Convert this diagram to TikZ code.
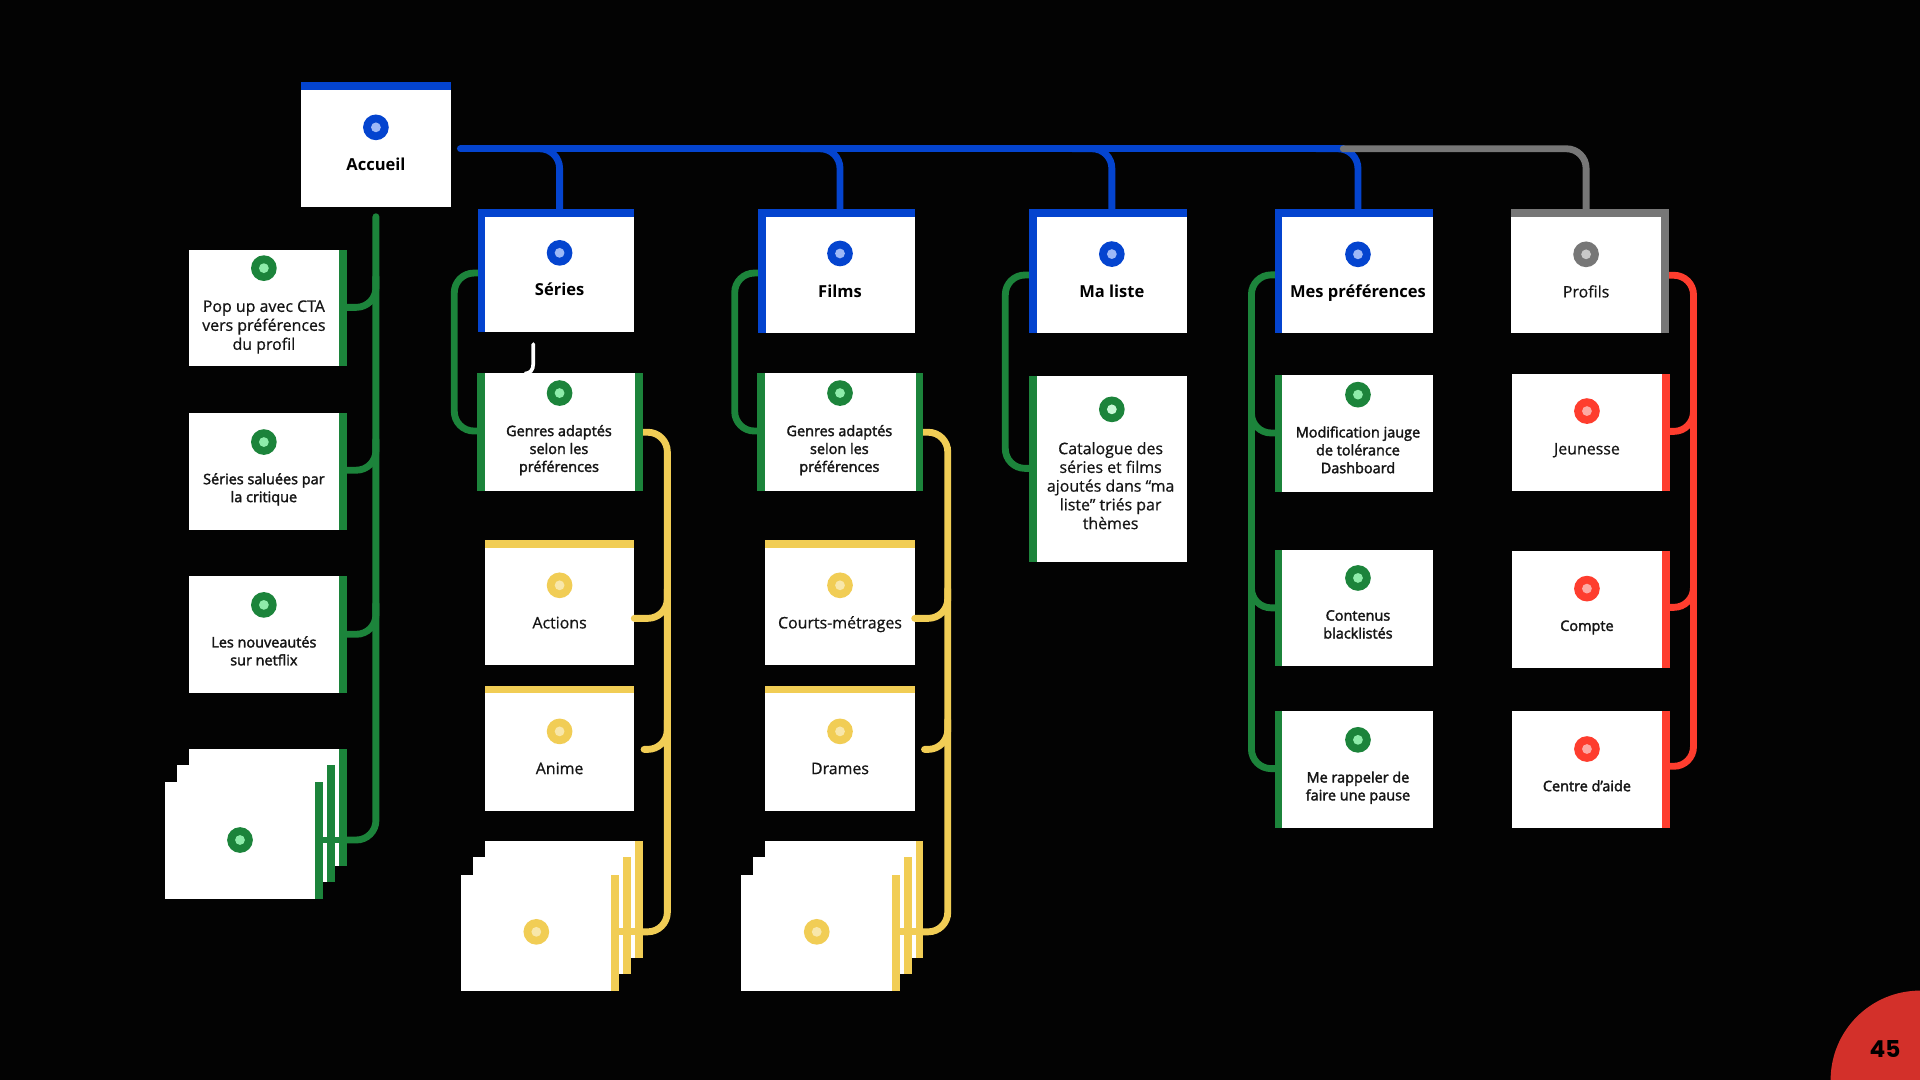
\documentclass[tikz,border=0pt]{standalone}
\usepackage{fontspec}
\setmainfont{Open Sans}
\newfontface\regf{Open Sans}[FakeBold=0.7]
\newfontface\semib{Open Sans}[FakeBold=2.2]
\newfontfamily\popf{Poppins}
\usetikzlibrary{calc,backgrounds}
\definecolor{bg}{HTML}{030303}
\definecolor{cb}{HTML}{0444CF}
\definecolor{cbl}{HTML}{9DB8F7}
\definecolor{cg}{HTML}{1C843B}
\definecolor{cgl}{HTML}{8EECAA}
\definecolor{cgll}{HTML}{C8F8D6}
\definecolor{cy}{HTML}{F1CD55}
\definecolor{cyl}{HTML}{F8E7AA}
\definecolor{cr}{HTML}{FE3D2E}
\definecolor{crl}{HTML}{FCAAA5}
\definecolor{cgr}{HTML}{777777}
\definecolor{cgrl}{HTML}{C9C9C9}
\definecolor{pgred}{HTML}{D3302A}
\definecolor{tx}{HTML}{161616}
\tikzset{
  wbox/.style={fill=white,draw=none,inner sep=0pt,outer sep=0pt,anchor=north west},
  conn/.style={line width=5.6pt,line cap=round,rounded corners=16pt},
  ttl/.style={inner sep=0pt,text=black,text height=9.7pt,text depth=0pt,font=\bfseries\fontsize{13.5}{16}\selectfont},
  reg/.style={inner sep=0pt,align=center,text=tx,text height=9.4pt,text depth=0pt,font=\regf\fontsize{13}{15.5}\selectfont},
  sem/.style={inner sep=0pt,align=center,text=tx,text height=8.5pt,text depth=0pt,font=\semib\fontsize{11.8}{14.6}\selectfont},
}
\newcommand\bx[5]{\node[wbox,minimum width={#4-#2},minimum height={#5-#3}] (#1) at (#2,#3) {};}
\newcommand\tb[2]{\fill[#2] (#1.north west) rectangle ([yshift=-6.3pt]#1.north east);}
\newcommand\lb[2]{\fill[#2] (#1.north west) rectangle ([xshift=6.3pt]#1.south west);}
\newcommand\rb[2]{\fill[#2] ([xshift=-6.3pt]#1.north east) rectangle (#1.south east);}
\newcommand\dotc[4]{\fill[#3] (#1,#2) circle (10.5pt); \fill[#4] (#1,#2) circle (4pt);}
\begin{document}
\begin{tikzpicture}[x=1pt,y=-1pt]
\useasboundingbox (0,0) rectangle (1568,882);
% ---------- Accueil
\bx{acc}{246}{67}{368}{169} \tb{acc}{cb}
\dotc{307}{104}{cb}{cbl}
\node[ttl] (acc-t) at (307,134.5) {Accueil};
% ---------- left column
\bx{pop}{154}{204}{283}{299} \rb{pop}{cg}
\dotc{215.5}{219}{cg}{cgl}
\node[reg] (pop-t) at (215.5,281) {Pop up avec CTA\\vers préférences\\du profil};
\bx{sal}{154}{337}{283}{432.5} \rb{sal}{cg}
\dotc{215.5}{361}{cg}{cgl}
\node[sem] (sal-t) at (215.5,405.8) {Séries saluées par\\la critique};
\bx{nou}{154}{470}{283}{566} \rb{nou}{cg}
\dotc{215.5}{494}{cg}{cgl}
\node[sem] (nou-t) at (215.5,539.1) {Les nouveautés\\sur netflix};
\bx{stA}{154}{612}{283}{707} \rb{stA}{cg}
\bx{stB}{144.6}{625}{273.6}{720} \rb{stB}{cg}
\bx{stC}{134.7}{638.4}{263.8}{734} \rb{stC}{cg}
\dotc{196}{686}{cg}{cgl}
% ---------- Series column
\bx{ser}{390}{171}{518}{271} \tb{ser}{cb} \lb{ser}{cb}
\dotc{457}{206.5}{cb}{cbl}
\node[ttl] (ser-t) at (457,236.8) {Séries};
\bx{genS}{389.5}{305}{525}{401} \lb{genS}{cg} \rb{genS}{cg}
\dotc{457}{321}{cg}{cgl}
\node[sem] (genS-t) at (456.5,381.1) {Genres adaptés\\selon les\\préférences};
\bx{act}{396}{441}{518}{543} \tb{act}{cy}
\dotc{457}{478}{cy}{cyl}
\node[reg] (act-t) at (457,508.5) {Actions};
\bx{ani}{396}{560}{518}{662} \tb{ani}{cy}
\dotc{457}{597.3}{cy}{cyl}
\node[reg] (ani-t) at (457,627.5) {Anime};
\bx{ysA}{396}{686.7}{525}{782} \rb{ysA}{cy}
\bx{ysB}{386.3}{699.8}{515.4}{795.5} \rb{ysB}{cy}
\bx{ysC}{376.5}{714.2}{505.6}{809} \rb{ysC}{cy}
\dotc{438}{761}{cy}{cyl}
% ---------- Films column
\bx{fil}{619}{171}{747}{272} \tb{fil}{cb} \lb{fil}{cb}
\dotc{686}{207}{cb}{cbl}
\node[ttl] (fil-t) at (686,238) {Films};
\bx{genF}{618.5}{305}{754}{401} \lb{genF}{cg} \rb{genF}{cg}
\dotc{686}{321}{cg}{cgl}
\node[sem] (genF-t) at (685.5,381.1) {Genres adaptés\\selon les\\préférences};
\bx{crt}{625}{441}{747}{543} \tb{crt}{cy}
\dotc{686}{478}{cy}{cyl}
\node[reg] (crt-t) at (686,508.5) {Courts-métrages};
\bx{dra}{625}{560}{747}{662} \tb{dra}{cy}
\dotc{686}{597.3}{cy}{cyl}
\node[reg] (dra-t) at (686,627.5) {Drames};
\bx{yfA}{625}{686.7}{754}{782} \rb{yfA}{cy}
\bx{yfB}{615.3}{699.8}{744.4}{795.5} \rb{yfB}{cy}
\bx{yfC}{605.5}{714.2}{734.6}{809} \rb{yfC}{cy}
\dotc{667}{761}{cy}{cyl}
% ---------- Ma liste column
\bx{mal}{840.5}{171}{969}{272} \tb{mal}{cb} \lb{mal}{cb}
\dotc{908}{207.5}{cb}{cbl}
\node[ttl] (mal-t) at (908,238.2) {Ma liste};
\bx{cat}{840.5}{307}{969}{459} \lb{cat}{cg}
\dotc{908}{334.3}{cg}{cgll}
\node[reg,font=\regf\fontsize{13}{15.3}\selectfont] (cat-t) at (907,427.4) {Catalogue des\\séries et films\\ajoutés dans “ma\\liste” triés par\\thèmes};
% ---------- Mes preferences column
\bx{mpr}{1041}{171}{1170}{272} \tb{mpr}{cb} \lb{mpr}{cb}
\dotc{1109}{207.7}{cb}{cbl}
\node[ttl] (mpr-t) at (1109,238.2) {Mes préférences};
\bx{mod}{1041}{306.3}{1170}{401.7} \lb{mod}{cg}
\dotc{1109}{322.3}{cg}{cgl}
\node[sem] (mod-t) at (1109,382.2) {Modification jauge\\de tolérance\\Dashboard};
\bx{con}{1041}{449}{1170}{544.2} \lb{con}{cg}
\dotc{1109}{472}{cg}{cgl}
\node[sem] (con-t) at (1109,517.2) {Contenus\\blacklistés};
\bx{rap}{1041}{580.8}{1170}{676.1} \lb{rap}{cg}
\dotc{1109}{604.2}{cg}{cgl}
\node[sem] (rap-t) at (1109,649.4) {Me rappeler de\\faire une pause};
% ---------- Profils column
\bx{pro}{1234}{171}{1362.7}{272} \tb{pro}{cgr} \rb{pro}{cgr}
\dotc{1295.3}{207.7}{cgr}{cgrl}
\node[reg] (pro-t) at (1295.3,238.2) {Profils};
\bx{jeu}{1234.8}{305.5}{1363.8}{400.7} \rb{jeu}{cr}
\dotc{1296}{335.7}{cr}{crl}
\node[reg] (jeu-t) at (1296,366.4) {Jeunesse};
\bx{cpt}{1234.8}{450}{1363.8}{545.4} \rb{cpt}{cr}
\dotc{1296}{480.7}{cr}{crl}
\node[sem] (cpt-t) at (1296,511) {Compte};
\bx{cda}{1234.8}{581}{1363.8}{676.4} \rb{cda}{cr}
\dotc{1296}{611.7}{cr}{crl}
\node[sem] (cda-t) at (1296,641.9) {Centre d’aide};
% ---------- free ends
\coordinate (blS) at (376,121.5);
\coordinate (blE) at (1097,121.5);
\coordinate (accT) at (307,177);
\coordinate (aniB) at (526,612);
\coordinate (draB) at (755,612);
\coordinate (hk) at (435.5,281);
% ---------- connectors (under the boxes)
\begin{pgfonlayer}{background}
\fill[bg] (0,0) rectangle (1568,882);
% top bus
\draw[conn,cb] (blS) -- (blE);
\draw[conn,cb] (425,121.5) -- (457,121.5) -- (ser.north -| 457,0);
\draw[conn,cb] (654,121.5) -- (686,121.5) -- (fil.north -| 686,0);
\draw[conn,cb] (876,121.5) -- (908,121.5) -- (mal.north -| 908,0);
\draw[conn,cb] (1075,121.5) -- (1109,121.5) -- (mpr.north -| 1109,0);
\draw[conn,cgr] (blE) -- (1295.3,121.5) -- (pro.north -| 1295.3,0);
% Accueil trunk
\draw[conn,cg] (accT) -- (307,686) -- (stC.east |- 0,686);
\draw[conn,cg] (pop.east |- 0,251) -- (307,251) -- (307,226);
\draw[conn,cg] (sal.east |- 0,384) -- (307,384) -- (307,359);
\draw[conn,cg] (nou.east |- 0,518) -- (307,518) -- (307,493);
% Series
\draw[conn,cg] (ser.west |- 0,223) -- (371,223) -- (371,352) -- (genS.west |- 0,352);
\draw[conn,cy] (genS.east |- 0,353) -- (545,353) -- (545,761) -- (ysC.east |- 0,761);
\draw[conn,cy] (aniB) -- (545,612) -- (545,588);
% Films
\draw[conn,cg] (fil.west |- 0,223) -- (600,223) -- (600,352) -- (genF.west |- 0,352);
\draw[conn,cy] (genF.east |- 0,353) -- (774,353) -- (774,761) -- (yfC.east |- 0,761);
\draw[conn,cy] (draB) -- (774,612) -- (774,588);
% Ma liste
\draw[conn,cg] (mal.west |- 0,224.6) -- (821,224.6) -- (821,382.5) -- (cat.west |- 0,382.5);
% Mes preferences
\draw[conn,cg] (mpr.west |- 0,224.5) -- (1022,224.5) -- (1022,627.7) -- (rap.west |- 0,627.7);
\draw[conn,cg] (1022,329) -- (1022,353.6) -- (mod.west |- 0,353.6);
\draw[conn,cg] (1022,472) -- (1022,496.4) -- (con.west |- 0,496.4);
% Profils
\draw[conn,cr] (pro.east |- 0,224.8) -- (1383,224.8) -- (1383,625.8) -- (cda.east |- 0,625.8);
\draw[conn,cr] (jeu.east |- 0,352.3) -- (1383,352.3) -- (1383,328);
\draw[conn,cr] (cpt.east |- 0,496) -- (1383,496) -- (1383,472);
\end{pgfonlayer}
% ---------- overlays
\draw[conn,cy] (act.east |- 0,505) -- (545,505) -- (545,481);
\draw[conn,cy] (crt.east |- 0,505) -- (774,505) -- (774,481);
\draw[line width=5.6pt,cg] (stC.east |- 0,686) -- (stA.east |- 0,686);
\draw[line width=5.6pt,cy] (ysC.east |- 0,761) -- (ysA.east |- 0,761);
\draw[line width=5.6pt,cy] (yfC.east |- 0,761) -- (yfA.east |- 0,761);
\draw[white,line width=3pt,line cap=round] (hk) -- (435.5,297) .. controls (435.5,302) and (433,305) .. (genS.north -| 429,0);
% ---------- page number
\fill[pgred] (1568,882) circle (73pt);
\node[inner sep=0pt,text=black,font=\popf\bfseries\fontsize{19}{19}\selectfont] (pg) at (1539.5,857) {45};
\end{tikzpicture}
\end{document}
